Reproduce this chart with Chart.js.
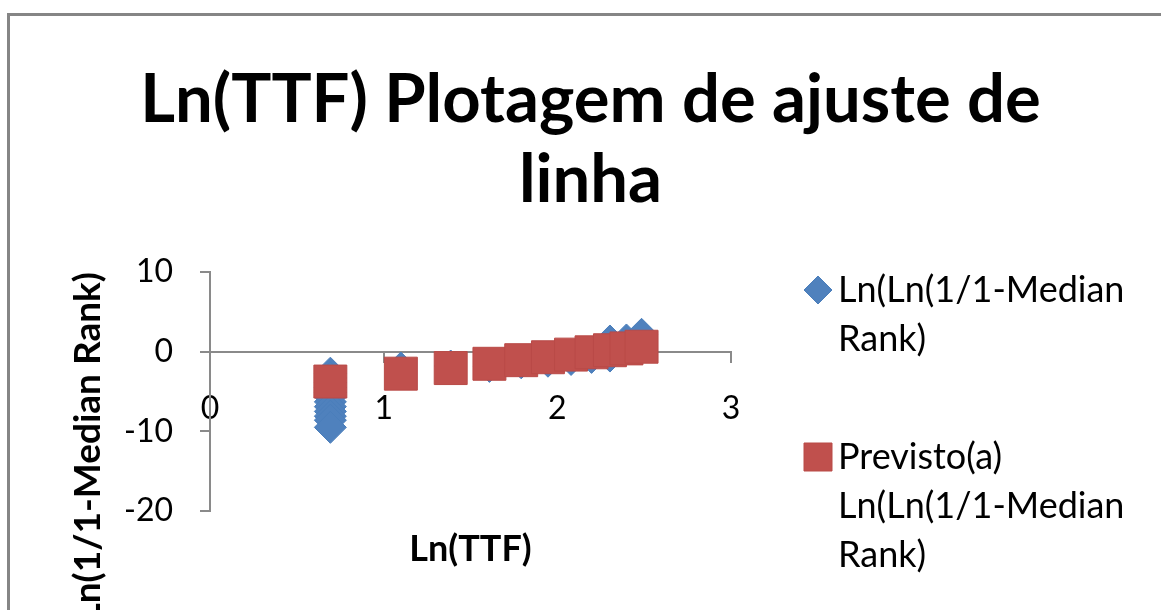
<!DOCTYPE html>
<html>
<head>
<meta charset="utf-8">
<script src="https://cdn.jsdelivr.net/npm/chart.js@4.4.1/dist/chart.umd.min.js"></script>
<style>
  html, body { margin: 0; padding: 0; background: #fff; overflow: hidden; width: 1161px; height: 610px; }
  #frame { position: absolute; left: 7px; top: 13px; width: 1300px; height: 800px; border-left: 3px solid #858585; border-top: 3px solid #858585; }
  #wrap { position: absolute; left: 0; top: 0; }
</style>
</head>
<body>
<div id="frame"></div>
<div id="wrap"><canvas id="chart" width="1161" height="610"></canvas></div>
<script>
'use strict';

/* ---- data ---- */
// observed points: Ln(TTF) vs Ln(Ln(1/1-Median Rank))
const ttfLn = [0.693, 0.693, 0.693, 0.693, 0.693, 0.693, 0.693, 0.693, 0.693, 0.693, 0.693, 0.693,
  1.099, 1.386, 1.609, 1.792, 1.946, 2.079, 2.197, 2.303, 2.303, 2.398, 2.485];
const rankLnLn = [-2.7, -3.3, -3.9, -4.5, -5.1, -5.7, -6.3, -6.9, -7.5, -8.1, -8.6, -9.5,
  -2.05, -1.8, -1.85, -1.4, -1.2, -0.98, -0.72, -0.55, 1.34, 1.47, 2.18];

// fitted line ("Previsto")
const fitLn = [0.693, 1.099, 1.386, 1.609, 1.792, 1.946, 2.079, 2.197, 2.303, 2.398, 2.485];
const fitPred = [-3.75, -2.76, -2.06, -1.52, -1.07, -0.70, -0.37, -0.08, 0.18, 0.41, 0.62];

const xTicks = [0, 1, 2, 3];
const yTicks = [-20, -10, 0, 10];

const titleLines = ['Ln(TTF) Plotagem de ajuste de', 'linha'];
const xTitle = 'Ln(TTF)';
const yTitle = 'Ln(Ln(1/1-Median Rank)';
const observedLabel = ['Ln(Ln(1/1-Median', 'Rank)'];
const predictedLabel = ['Previsto(a)', 'Ln(Ln(1/1-Median', 'Rank)'];

/* ---- chart ---- */
const AXIS = '#8a8a8a';
const FONT = 'Lato';
const PLOT_RIGHT = 731;

Chart.defaults.font.family = FONT;
Chart.defaults.color = '#000';

const toPoints = (xs, ys) => xs.map((x, i) => ({ x, y: ys[i] }));

// legend drawn beside the plot, Excel style: wrapped labels, marker on first line
const sideLegend = {
  id: 'sideLegend',
  afterDraw(chart, args, opts) {
    const { ctx } = chart;
    let y = opts.top;
    ctx.save();
    ctx.font = `${opts.fontSize}px ${FONT}`;
    ctx.textBaseline = 'middle';
    chart.data.datasets.forEach(ds => {
      ctx.fillStyle = ds.backgroundColor;
      ctx.strokeStyle = ds.borderColor;
      ctx.lineWidth = ds.borderWidth;
      const r = ds.pointStyle === 'rect' ? opts.box / Math.SQRT2 : opts.box / 2;
      Chart.helpers.drawPoint(ctx, { pointStyle: ds.pointStyle, radius: r, borderWidth: ds.borderWidth }, opts.x, y);
      ctx.fillStyle = '#000';
      ds.label.forEach((line, i) => ctx.fillText(line, opts.x + opts.gap, y + i * opts.lineHeight));
      y += ds.label.length * opts.lineHeight + opts.itemGap;
    });
    ctx.restore();
  }
};

const chart = new Chart(document.getElementById('chart'), {
  type: 'scatter',
  data: {
    datasets: [
      {
        label: observedLabel,
        data: toPoints(ttfLn, rankLnLn),
        pointStyle: 'rectRot',
        radius: 16,
        backgroundColor: '#4F81BD',
        borderColor: '#4A7EBB',
        borderWidth: 1,
        order: 1
      },
      {
        label: predictedLabel,
        data: toPoints(fitLn, fitPred),
        pointStyle: 'rect',
        radius: 23.3,
        backgroundColor: '#C0504D',
        borderColor: '#B94A47',
        borderWidth: 1,
        order: 0
      }
    ]
  },
  options: {
    responsive: false,
    animation: false,
    devicePixelRatio: 1,
    layout: { padding: { left: 20, right: 0, top: 0, bottom: 99 } },
    plugins: {
      tooltip: { enabled: false },
      legend: { display: false },
      title: {
        display: true,
        text: titleLines,
        font: { size: 67, weight: 'bold', lineHeight: 80 / 67 },
        padding: { top: 60, bottom: 52 }
      },
      sideLegend: { x: 818, top: 290, box: 28, gap: 20, fontSize: 36, lineHeight: 49, itemGap: 69 }
    },
    scales: {
      x: {
        type: 'linear',
        position: { y: 0 },
        min: 0,
        max: 3,
        afterBuildTicks: s => { s.ticks = xTicks.map(v => ({ value: v })); },
        // keep the right side free for the legend
        afterFit: s => { s.paddingRight = 1161 - PLOT_RIGHT; },
        ticks: { font: { size: 32 }, padding: 28 },
        grid: { drawOnChartArea: false, tickLength: 10, color: AXIS, lineWidth: 2 },
        border: { display: true, color: AXIS, width: 2 },
        title: { display: true, text: xTitle, font: { size: 36, weight: 'bold' }, padding: { top: 72, bottom: 0 } }
      },
      y: {
        type: 'linear',
        min: -20,
        max: 10,
        afterBuildTicks: s => { s.ticks = yTicks.map(v => ({ value: v })); },
        afterFit: s => { s.width = 190; },
        ticks: { font: { size: 32 }, padding: 27 },
        grid: { drawOnChartArea: false, tickLength: 10, color: AXIS, lineWidth: 2 },
        border: { display: true, color: AXIS, width: 2 },
        title: { display: true, text: yTitle, align: 'end', font: { size: 37, weight: 'bold' }, padding: { top: 46, bottom: 0 } }
      }
    }
  },
  plugins: [sideLegend]
});
</script>
</body>
</html>
